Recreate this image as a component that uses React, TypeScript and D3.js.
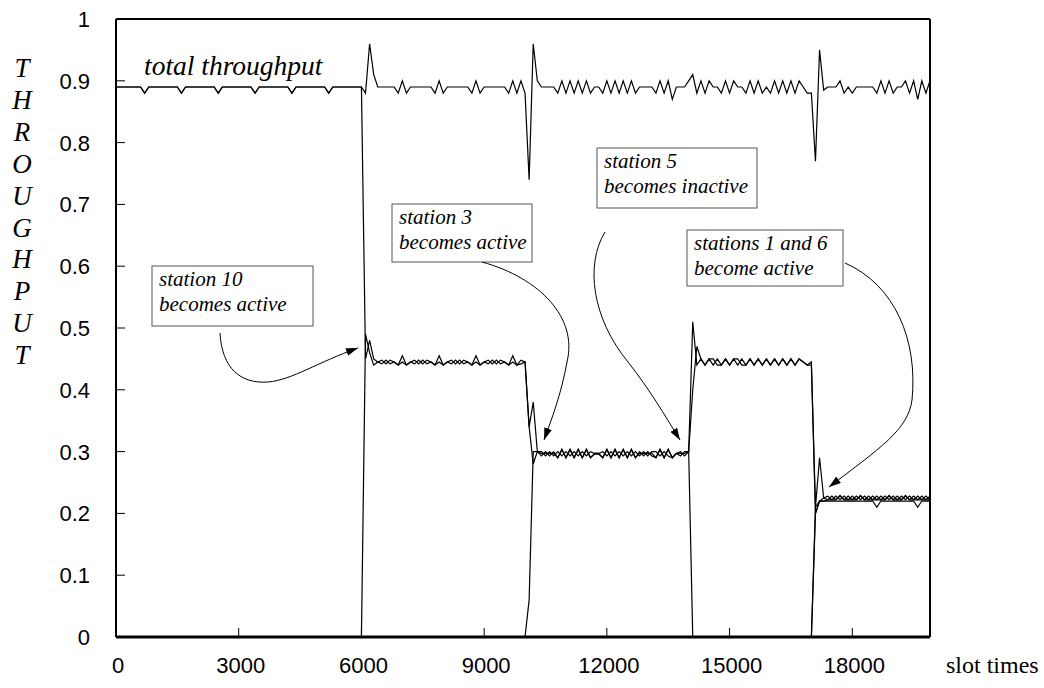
import React from "react";
import * as d3 from "d3";

const SLOT_STEP = 100;
const X_MAX = 19900;
const X_TICKS = [0, 3000, 6000, 9000, 12000, 15000, 18000];
const Y_TICKS = [0, 0.1, 0.2, 0.3, 0.4, 0.5, 0.6, 0.7, 0.8, 0.9, 1];
const Y_TICK_LABELS = ["0", "0.1", "0.2", "0.3", "0.4", "0.5", "0.6", "0.7", "0.8", "0.9", "1"];
const Y_TITLE = ["T", "H", "R", "O", "U", "G", "H", "P", "U", "T"];

// total throughput, one value every 100 slot times from 0
const TOTAL = [
  0.89, 0.89, 0.89, 0.89, 0.89, 0.89, 0.89, 0.88, 0.89, 0.89,
  0.89, 0.89, 0.89, 0.89, 0.89, 0.89, 0.88, 0.89, 0.89, 0.89,
  0.89, 0.89, 0.89, 0.89, 0.89, 0.88, 0.89, 0.89, 0.89, 0.89,
  0.89, 0.89, 0.89, 0.89, 0.88, 0.89, 0.89, 0.89, 0.89, 0.89,
  0.89, 0.89, 0.89, 0.88, 0.89, 0.89, 0.89, 0.89, 0.89, 0.89,
  0.89, 0.89, 0.88, 0.89, 0.89, 0.89, 0.89, 0.89, 0.89, 0.89,
  0.89, 0.88, 0.96, 0.91, 0.89, 0.89, 0.89, 0.89, 0.89, 0.88,
  0.90, 0.88, 0.89, 0.89, 0.89, 0.89, 0.89, 0.89, 0.88, 0.90,
  0.88, 0.89, 0.89, 0.89, 0.89, 0.89, 0.89, 0.88, 0.90, 0.88,
  0.89, 0.89, 0.89, 0.89, 0.89, 0.89, 0.88, 0.90, 0.88, 0.90,
  0.88, 0.74, 0.96, 0.90, 0.89, 0.89, 0.89, 0.89, 0.88, 0.90,
  0.88, 0.90, 0.88, 0.90, 0.88, 0.90, 0.88, 0.89, 0.89, 0.88,
  0.90, 0.88, 0.90, 0.88, 0.90, 0.88, 0.90, 0.88, 0.89, 0.89,
  0.89, 0.89, 0.88, 0.90, 0.88, 0.90, 0.87, 0.89, 0.89, 0.89,
  0.90, 0.91, 0.88, 0.90, 0.88, 0.90, 0.89, 0.89, 0.88, 0.90,
  0.88, 0.90, 0.89, 0.89, 0.88, 0.90, 0.88, 0.90, 0.88, 0.89,
  0.88, 0.90, 0.88, 0.90, 0.88, 0.90, 0.88, 0.90, 0.89, 0.88,
  0.88, 0.77, 0.95, 0.885, 0.89, 0.89, 0.89, 0.90, 0.88, 0.89,
  0.88, 0.89, 0.89, 0.89, 0.89, 0.89, 0.88, 0.90, 0.88, 0.90,
  0.88, 0.89, 0.89, 0.90, 0.88, 0.90, 0.87, 0.90, 0.88, 0.90,
];

// station 5: active from 0, becomes inactive at 14000
const STATION5_START = 0;
const STATION5 = [
  0.89, 0.89, 0.89, 0.89, 0.89, 0.89, 0.89, 0.88, 0.89, 0.89,
  0.89, 0.89, 0.89, 0.89, 0.89, 0.89, 0.88, 0.89, 0.89, 0.89,
  0.89, 0.89, 0.89, 0.89, 0.89, 0.88, 0.89, 0.89, 0.89, 0.89,
  0.89, 0.89, 0.89, 0.89, 0.88, 0.89, 0.89, 0.89, 0.89, 0.89,
  0.89, 0.89, 0.89, 0.88, 0.89, 0.89, 0.89, 0.89, 0.89, 0.89,
  0.89, 0.89, 0.88, 0.89, 0.89, 0.89, 0.89, 0.89, 0.89, 0.89,
  0.89, 0.45, 0.48, 0.45, 0.445, 0.448, 0.442, 0.448, 0.445, 0.44,
  0.455, 0.44, 0.445, 0.448, 0.442, 0.448, 0.442, 0.445, 0.44, 0.455,
  0.44, 0.445, 0.448, 0.442, 0.448, 0.442, 0.445, 0.44, 0.455, 0.44,
  0.445, 0.448, 0.442, 0.448, 0.442, 0.445, 0.44, 0.455, 0.44, 0.448,
  0.445, 0.34, 0.28, 0.30, 0.300, 0.293, 0.300, 0.293, 0.300, 0.293,
  0.300, 0.293, 0.300, 0.293, 0.300, 0.293, 0.300, 0.297, 0.297, 0.300,
  0.293, 0.300, 0.293, 0.300, 0.293, 0.300, 0.293, 0.300, 0.293, 0.300,
  0.293, 0.300, 0.300, 0.293, 0.300, 0.293, 0.290, 0.297, 0.300, 0.293,
  0.300, 0.0,
];

// station 10: becomes active at 6000
const STATION10_START = 6000;
const STATION10 = [
  0.0, 0.49, 0.46, 0.44, 0.445,
  0.442, 0.448, 0.442, 0.445, 0.44, 0.445, 0.44, 0.445, 0.442, 0.448,
  0.442, 0.448, 0.445, 0.44, 0.445, 0.44, 0.445, 0.442, 0.448, 0.442,
  0.448, 0.445, 0.44, 0.445, 0.44, 0.445, 0.442, 0.448, 0.442, 0.448,
  0.445, 0.44, 0.445, 0.44, 0.442,
  0.445, 0.34, 0.38, 0.30,
  0.293, 0.300, 0.293, 0.300,
  0.290, 0.303, 0.290, 0.303, 0.290, 0.303, 0.290, 0.303, 0.290,
  0.297, 0.297,
  0.290, 0.303, 0.290, 0.303, 0.290, 0.303, 0.290, 0.303, 0.290,
  0.300, 0.293, 0.300, 0.293,
  0.290, 0.303, 0.290, 0.303, 0.290,
  0.297, 0.293, 0.300,
  0.300, 0.51, 0.44,
  0.45, 0.44, 0.45, 0.45, 0.44, 0.44, 0.45, 0.44, 0.45, 0.45, 0.44,
  0.44, 0.45, 0.44, 0.45, 0.44, 0.45, 0.44, 0.45, 0.44, 0.45, 0.44, 0.45, 0.44, 0.45,
  0.445, 0.44, 0.445, 0.21, 0.29, 0.225,
  0.222, 0.222, 0.222, 0.229, 0.222, 0.222, 0.222, 0.222, 0.229, 0.222,
  0.222, 0.222, 0.222, 0.222, 0.222, 0.229, 0.222, 0.222, 0.222, 0.229,
  0.222, 0.222, 0.222, 0.222, 0.222, 0.222,
];

// station 3: becomes active at 10000
const STATION3_START = 10000;
const STATION3 = [
  0.0, 0.06, 0.30, 0.30,
  0.297, 0.297, 0.297, 0.297,
  0.290, 0.304, 0.290, 0.304, 0.290, 0.304, 0.290, 0.304, 0.290,
  0.296, 0.296,
  0.290, 0.304, 0.290, 0.304, 0.290, 0.304, 0.290, 0.304, 0.290,
  0.297, 0.297, 0.297, 0.297,
  0.290, 0.304, 0.290, 0.304, 0.290,
  0.297, 0.297, 0.297,
  0.30, 0.40, 0.47,
  0.45, 0.44, 0.45, 0.44, 0.45, 0.44, 0.45, 0.44, 0.45, 0.44, 0.45,
  0.44, 0.45, 0.44, 0.45, 0.44, 0.45, 0.44, 0.45, 0.44, 0.45, 0.44, 0.45, 0.44, 0.45,
  0.445, 0.44, 0.44, 0.20, 0.22, 0.22,
  0.222, 0.228, 0.222, 0.228, 0.222, 0.228, 0.222, 0.228, 0.222, 0.228,
  0.222, 0.228, 0.222, 0.228, 0.222, 0.228, 0.222, 0.228, 0.222, 0.228,
  0.222, 0.228, 0.222, 0.228, 0.222, 0.228,
];

// stations 1 and 6: become active at 17000
const STATION1_START = 17000;
const STATION1 = [
  0.0, 0.21, 0.22, 0.22,
  0.22, 0.22, 0.22, 0.22, 0.22, 0.22, 0.22, 0.22, 0.22, 0.22,
  0.22, 0.22, 0.21, 0.22, 0.22, 0.22, 0.22, 0.22, 0.22, 0.22,
  0.22, 0.22, 0.21, 0.22, 0.22, 0.22,
];
const STATION6_START = 17000;
const STATION6 = [
  0.0, 0.20, 0.22, 0.225,
  0.228, 0.222, 0.228, 0.222, 0.228, 0.222, 0.228, 0.222, 0.228, 0.222,
  0.228, 0.222, 0.228, 0.222, 0.228, 0.222, 0.228, 0.222, 0.228, 0.222,
  0.228, 0.222, 0.228, 0.222, 0.228, 0.222,
];

const SERIES: { start: number; values: number[] }[] = [
  { start: 0, values: TOTAL },
  { start: STATION5_START, values: STATION5 },
  { start: STATION10_START, values: STATION10 },
  { start: STATION3_START, values: STATION3 },
  { start: STATION1_START, values: STATION1 },
  { start: STATION6_START, values: STATION6 },
];

const ANNOTATIONS = [
  { lines: ["station 10", "becomes active"], box: [152, 266, 161, 60] },
  { lines: ["station 3", "becomes active"], box: [392, 204, 140, 58] },
  { lines: ["station 5", "becomes inactive"], box: [597, 148, 160, 60] },
  { lines: ["stations 1 and 6", "become active"], box: [687, 230, 156, 56] },
];

const ARROWS = [
  "M220,333 C222,368 240,384 268,382 C292,380 318,362 358,348",
  "M482,262 C540,278 578,318 567,362 C561,395 552,418 544,440",
  "M605,232 C585,265 592,318 628,362 C650,390 664,414 680,440",
  "M845,263 C895,285 918,340 912,400 C908,430 880,448 829,487",
];

const SANS = "'Liberation Sans', Arial, sans-serif";
const SERIF = "'Liberation Serif', 'Times New Roman', serif";

export default function App() {
  const W = 1044;
  const H = 688;
  const x = d3.scaleLinear().domain([0, X_MAX]).range([116, 930]);
  const y = d3.scaleLinear().domain([0, 1]).range([637, 19]);
  const line = d3
    .line<[number, number]>()
    .x((d) => x(d[0]))
    .y((d) => y(d[1]));
  const toPts = (start: number, vals: number[]) =>
    vals.map((v, i) => [start + i * SLOT_STEP, v] as [number, number]);

  const serifItalic = { fontFamily: SERIF, fontStyle: "italic" as const };

  return (
    <svg
      width={W}
      height={H}
      style={{ position: "absolute", left: 0, top: 0, background: "#fff" }}
    >
      <defs>
        <marker
          id="ah"
          viewBox="0 0 12 8"
          refX="12"
          refY="4"
          markerWidth="12"
          markerHeight="8"
          markerUnits="userSpaceOnUse"
          orient="auto"
        >
          <path d="M0,0 L12,4 L0,8 Z" fill="#000" />
        </marker>
      </defs>
      <rect x={0} y={0} width={W} height={H} fill="#fff" />

      {/* frame */}
      <line x1={x(0)} x2={x(X_MAX)} y1={y(1)} y2={y(1)} stroke="#000" strokeWidth={2} />
      <line x1={x(X_MAX)} x2={x(X_MAX)} y1={y(1)} y2={y(0)} stroke="#000" strokeWidth={2} />
      <line x1={x(0)} x2={x(0)} y1={y(1)} y2={y(0)} stroke="#000" strokeWidth={2} />

      {/* y ticks */}
      {Y_TICKS.map((t, i) => (
        <g key={"yt" + i}>
          <line x1={x(0)} x2={x(0) + 9} y1={y(t)} y2={y(t)} stroke="#000" strokeWidth={1} />
          <text
            x={90}
            y={y(t) + 8}
            textAnchor="end"
            style={{ fontFamily: SANS }}
            fontSize={22}
            fill="#000"
          >
            {Y_TICK_LABELS[i]}
          </text>
        </g>
      ))}

      {/* x ticks */}
      {X_TICKS.map((t) => (
        <g key={"xt" + t}>
          <line x1={x(t)} x2={x(t)} y1={y(0)} y2={y(0) - 9} stroke="#000" strokeWidth={1} />
          <text
            x={x(t) + 2}
            y={673}
            textAnchor="middle"
            style={{ fontFamily: SANS }}
            fontSize={22}
            fill="#000"
          >
            {t}
          </text>
        </g>
      ))}
      <text x={946} y={673} style={{ fontFamily: SERIF }} fontSize={24} fill="#000">
        slot times
      </text>

      {/* y title */}
      {Y_TITLE.map((c, i) => (
        <text
          key={"yl" + i}
          x={22}
          y={77 + i * 31.9}
          textAnchor="middle"
          style={serifItalic}
          fontSize={27}
          fill="#000"
        >
          {c}
        </text>
      ))}

      {/* data */}
      {SERIES.map((s, i) => (
        <path
          key={"s" + i}
          d={line(toPts(s.start, s.values)) || ""}
          fill="none"
          stroke="#000"
          strokeWidth={1.2}
          strokeLinejoin="miter"
        />
      ))}

      {/* bottom axis */}
      <line x1={x(0)} x2={x(X_MAX)} y1={y(0)} y2={y(0)} stroke="#000" strokeWidth={3} />

      <text x={144} y={75} style={serifItalic} fontSize={27.5} fill="#000">
        total throughput
      </text>

      {/* annotations */}
      {ANNOTATIONS.map((a, i) => (
        <g key={"an" + i}>
          <rect
            x={a.box[0]}
            y={a.box[1]}
            width={a.box[2]}
            height={a.box[3]}
            fill="#fff"
            stroke="#555"
            strokeWidth={1}
          />
          {a.lines.map((l, j) => (
            <text
              key={j}
              x={a.box[0] + 7}
              y={a.box[1] + 20 + j * 25}
              style={serifItalic}
              fontSize={21}
              fill="#000"
            >
              {l}
            </text>
          ))}
        </g>
      ))}
      {ARROWS.map((d, i) => (
        <path key={"ar" + i} d={d} fill="none" stroke="#000" strokeWidth={1} markerEnd="url(#ah)" />
      ))}
    </svg>
  );
}
